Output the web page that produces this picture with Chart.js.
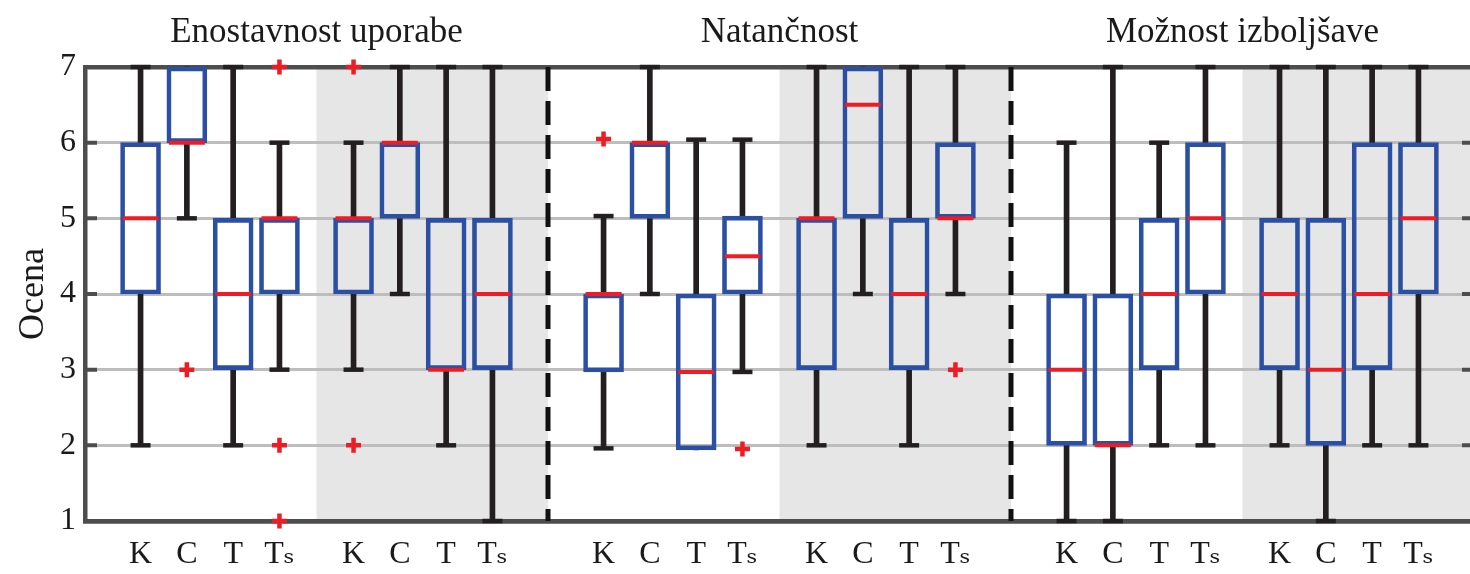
<!DOCTYPE html>
<html>
<head>
<meta charset="utf-8">
<script src="https://cdn.jsdelivr.net/npm/chart.js@4.4.1/dist/chart.umd.min.js"></script>
<style>
html, body { margin: 0; padding: 0; background: #fff; overflow: hidden; }
#wrap { width: 1470px; height: 574px; overflow: hidden; }
</style>
</head>
<body>
<div id="wrap"><canvas id="c" width="1496" height="574"></canvas></div>
<script>
// three question groups, each with a plain half and a shaded half
var groupTitles = ['Enostavnost uporabe', 'Natančnost', 'Možnost izboljšave'];
var groupCenters = [3.8, 13.8, 23.8];
var shadeFrom = [3.8, 13.8, 23.8];
var shadeTo = [8.8, 18.8, 28.8];
var dividers = [8.8, 18.8];

var tickLabels = ['K', 'C', 'T', 'Tₛ', 'K', 'C', 'T', 'Tₛ',
                  'K', 'C', 'T', 'Tₛ', 'K', 'C', 'T', 'Tₛ',
                  'K', 'C', 'T', 'Tₛ', 'K', 'C', 'T', 'Tₛ'];
var positions = [0, 1, 2, 3, 4.6, 5.6, 6.6, 7.6,
                 10, 11, 12, 13, 14.6, 15.6, 16.6, 17.6,
                 20, 21, 22, 23, 24.6, 25.6, 26.6, 27.6];

var whiskerLow  = [2, 5, 2, 3,   3, 4, 2, 1,   1.96, 4, 1.94, 2.97,   2, 4, 2, 4,   1, 1, 2, 2,   2, 1, 2, 2];
var boxLow      = [4, 6, 3, 4,   4, 5, 3, 3,   2.97, 5, 1.94, 4,      3, 5, 3, 5,   2, 2, 3, 4,   3, 2, 3, 4];
var medians     = [5, 6, 4, 5,   5, 6, 3, 4,   4, 6, 2.97, 4.5,       5, 6.5, 4, 5, 3, 2, 4, 5,   4, 3, 4, 5];
var boxHigh     = [6, 7, 5, 5,   5, 6, 5, 5,   4, 6, 4, 5.03,         5, 7, 5, 6,   4, 4, 5, 6,   5, 5, 6, 6];
var whiskerHigh = [7, 7, 7, 6,   6, 7, 7, 7,   5.03, 7, 6.04, 6.04,   7, 7, 7, 7,   6, 7, 6, 7,   7, 7, 7, 7];

var outlierIdx = [1, 3, 3, 3, 4, 4, 8, 11, 15];
var outlierVal = [3, 7, 2, 1, 7, 2, 6.05, 1.95, 3];

var blue = '#2b4fa2';
var red = '#ee1c25';
var black = '#231f20';
var axisColor = '#4d4d4d';
var serif = '"Liberation Serif", "DejaVu Serif", serif';

var boxes = [], whiskers = [], caps = [], mids = [], outliers = [];
for (var i = 0; i < positions.length; i++) {
  boxes.push({x: positions[i], y: [boxLow[i], boxHigh[i]]});
  whiskers.push({x: positions[i], y: [whiskerLow[i], boxLow[i]]});
  whiskers.push({x: positions[i], y: [boxHigh[i], whiskerHigh[i]]});
  if (whiskerLow[i] < boxLow[i]) caps.push({x: positions[i], y: whiskerLow[i]});
  if (whiskerHigh[i] > boxHigh[i]) caps.push({x: positions[i], y: whiskerHigh[i]});
  mids.push({x: positions[i], y: medians[i]});
}
for (var j = 0; j < outlierIdx.length; j++) {
  outliers.push({x: positions[outlierIdx[j]], y: outlierVal[j]});
}

var decor = {
  id: 'decor',
  beforeDraw: function(chart) {
    var ctx = chart.ctx, a = chart.chartArea, xs = chart.scales.x;
    ctx.save();
    ctx.fillStyle = '#e6e6e6';
    for (var i = 0; i < shadeFrom.length; i++) {
      var x0 = xs.getPixelForValue(shadeFrom[i]);
      var x1 = xs.getPixelForValue(shadeTo[i]);
      ctx.fillRect(x0, a.top, x1 - x0, a.bottom - a.top);
    }
    ctx.restore();
  },
  beforeDatasetsDraw: function(chart) {
    var ctx = chart.ctx, a = chart.chartArea, xs = chart.scales.x, ys = chart.scales.y;
    ctx.save();
    // inner tick marks
    ctx.strokeStyle = axisColor;
    ctx.lineWidth = 4;
    ys.ticks.forEach(function(t) {
      var y = ys.getPixelForValue(t.value);
      ctx.beginPath();
      ctx.moveTo(a.left, y); ctx.lineTo(a.left + 12, y);
      ctx.moveTo(a.right - 12, y); ctx.lineTo(a.right, y);
      ctx.stroke();
    });
    // dashed dividers between groups
    ctx.strokeStyle = '#111';
    ctx.lineWidth = 5;
    ctx.setLineDash([24, 10]);
    dividers.forEach(function(d) {
      var x = xs.getPixelForValue(d);
      ctx.beginPath();
      ctx.moveTo(x, a.top); ctx.lineTo(x, a.bottom);
      ctx.stroke();
    });
    ctx.restore();
  },
  afterDraw: function(chart) {
    var ctx = chart.ctx, xs = chart.scales.x;
    ctx.save();
    ctx.font = '35px ' + serif;
    ctx.fillStyle = '#1a1a1a';
    ctx.textAlign = 'center';
    ctx.textBaseline = 'alphabetic';
    for (var i = 0; i < groupTitles.length; i++) {
      ctx.fillText(groupTitles[i], xs.getPixelForValue(groupCenters[i]), 42);
    }
    ctx.restore();
  }
};

new Chart(document.getElementById('c'), {
  type: 'bar',
  data: {
    datasets: [
      { label: 'whiskers', data: whiskers, backgroundColor: black, borderWidth: 0,
        barThickness: 5, grouped: false, order: 5, clip: false },
      { type: 'scatter', label: 'caps', data: caps, pointStyle: 'line', pointRadius: 10,
        pointBorderColor: black, pointBorderWidth: 4.5, order: 4, clip: false },
      { label: 'boxes', data: boxes, backgroundColor: 'rgba(0,0,0,0)', borderColor: blue,
        borderWidth: 4, borderSkipped: false, barThickness: 40, grouped: false, order: 3, clip: false },
      { type: 'scatter', label: 'median', data: mids, pointStyle: 'line', pointRadius: 18,
        pointBorderColor: red, pointBorderWidth: 4, order: 2, clip: false },
      { type: 'scatter', label: 'outliers', data: outliers, pointStyle: 'cross', pointRadius: 7.5,
        pointBorderColor: red, pointBorderWidth: 4.5, order: 1, clip: false }
    ]
  },
  options: {
    responsive: false,
    animation: false,
    devicePixelRatio: 1,
    layout: { padding: { top: 67, right: 9, left: 0, bottom: 0 } },
    plugins: { legend: { display: false }, tooltip: { enabled: false } },
    scales: {
      x: {
        type: 'linear',
        offset: false,
        min: -1.2,
        max: 28.8,
        afterBuildTicks: function(scale) {
          scale.ticks = positions.map(function(p) { return {value: p}; });
        },
        afterFit: function(scale) { scale.height = 53; },
        ticks: {
          autoSkip: false,
          maxRotation: 0,
          padding: 14,
          color: '#1a1a1a',
          font: { family: serif, size: 32 },
          callback: function(v, idx) { return tickLabels[idx]; }
        },
        grid: { drawOnChartArea: false, drawTicks: false, color: 'rgba(0,0,0,0)' },
        border: { display: true, color: axisColor, width: 4.5 }
      },
      y: {
        min: 1,
        max: 7,
        afterFit: function(scale) { scale.width = 85; },
        ticks: {
          stepSize: 1,
          padding: 9,
          color: '#1a1a1a',
          font: { family: serif, size: 32 }
        },
        grid: {
          drawTicks: false,
          color: function(c) { return (c.tick && (c.tick.value === 7 || c.tick.value === 1)) ? axisColor : '#bdbdbd'; },
          lineWidth: function(c) { return (c.tick && (c.tick.value === 7 || c.tick.value === 1)) ? 4.5 : 3; }
        },
        border: { display: true, color: axisColor, width: 4.5 },
        title: {
          display: true,
          text: 'Ocena',
          color: '#1a1a1a',
          font: { family: serif, size: 36 },
          padding: { top: 12, bottom: 0 }
        }
      }
    }
  },
  plugins: [decor]
});
</script>
</body>
</html>
